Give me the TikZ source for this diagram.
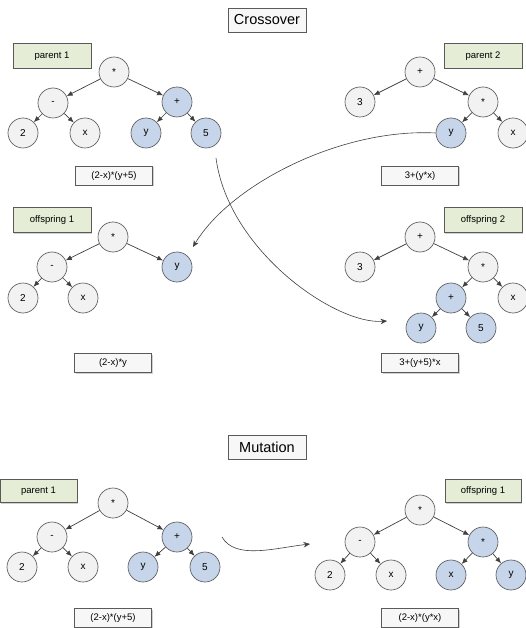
\documentclass[tikz,border=0pt]{standalone}
\usepackage{fontspec}
\setmainfont{Liberation Sans}
\usetikzlibrary{arrows.meta,shadows}
\definecolor{nodegray}{HTML}{F2F2F2}
\definecolor{nodeblue}{HTML}{C6D5EA}
\definecolor{bordergray}{HTML}{5A5A5A}
\definecolor{labelgreen}{HTML}{E5EDD6}
\definecolor{boxgray}{HTML}{F7F7F7}
\definecolor{edgegray}{HTML}{404040}
\tikzset{
  tnode/.style={circle,draw=bordergray,line width=0.65pt,fill=nodegray,minimum size=30pt,inner sep=0pt,font=\fontsize{10}{11}\selectfont},
  bnode/.style={tnode,fill=nodeblue},
  lbl/.style={draw=bordergray,line width=0.5pt,fill=labelgreen,minimum width=78pt,minimum height=25pt,inner sep=0pt,font=\fontsize{9.5}{10}\selectfont,drop shadow={shadow xshift=1pt,shadow yshift=-1pt,fill=gray!60,opacity=0.6}},
  expr/.style={draw=bordergray,line width=0.5pt,fill=boxgray,minimum width=77pt,minimum height=19pt,inner sep=0pt,font=\fontsize{9.5}{10}\selectfont,drop shadow={shadow xshift=1pt,shadow yshift=-1pt,fill=gray!60,opacity=0.6}},
  ttl/.style={draw=bordergray,line width=0.5pt,fill=boxgray,minimum width=78pt,minimum height=24pt,inner sep=0pt,font=\fontsize{14.5}{16}\selectfont,drop shadow={shadow xshift=1pt,shadow yshift=-1pt,fill=gray!60,opacity=0.6}},
  tedge/.style={draw=edgegray,line width=0.7pt,-{Latex[length=6pt,width=5pt]}},
  cedge/.style={draw=edgegray,line width=0.6pt,-{Stealth[length=6.5pt,width=5.5pt]}}
}
\begin{document}
\begin{tikzpicture}[x=1pt,y=-1pt]
\useasboundingbox (0,0) rectangle (526,628);
\fill[white] (0,0) rectangle (526,628);

% ---------- Crossover ----------
\node[ttl] (tc) at (267,20) {Crossover};

% parent 1
\node[lbl] (lp1) at (52,56) {parent 1};
\node[tnode] (a1) at (114,72) {*};
\node[tnode] (a2) at (53,103) {-};
\node[bnode] (a3) at (177,102) {+};
\node[tnode] (a4) at (23,133) {2};
\node[tnode] (a5) at (85,133) {x};
\node[bnode] (a6) at (146,133) {y};
\node[bnode] (a7) at (206,133) {5};
\node[expr] (ex1) at (114,176) {(2-x)*(y+5)};
\foreach \p/\c in {a1/a2,a1/a3,a2/a4,a2/a5,a3/a6,a3/a7} \draw[tedge] (\p) -- (\c);

% parent 2
\node[lbl] (lp2) at (483,56) {parent 2};
\node[tnode] (b1) at (420,72) {+};
\node[tnode] (b2) at (360,102) {3};
\node[tnode] (b3) at (483,102) {*};
\node[bnode] (b4) at (451,133) {y};
\node[tnode] (b5) at (513,133) {x};
\node[expr] (ex2) at (420,176) {3+(y*x)};
\foreach \p/\c in {b1/b2,b1/b3,b3/b4,b3/b5} \draw[tedge] (\p) -- (\c);

% offspring 1
\node[lbl] (lo1) at (52,220) {offspring 1};
\node[tnode] (c1) at (113,237) {*};
\node[tnode] (c2) at (52,267) {-};
\node[bnode] (c3) at (177,267) {y};
\node[tnode] (c4) at (23,298) {2};
\node[tnode] (c5) at (83,298) {x};
\node[expr] (ex3) at (113,363) {(2-x)*y};
\foreach \p/\c in {c1/c2,c1/c3,c2/c4,c2/c5} \draw[tedge] (\p) -- (\c);

% offspring 2
\node[lbl] (lo2) at (483,220) {offspring 2};
\node[tnode] (d1) at (420,237) {+};
\node[tnode] (d2) at (360,267) {3};
\node[tnode] (d3) at (483,267) {*};
\node[bnode] (d4) at (451,298) {+};
\node[tnode] (d5) at (513,298) {x};
\node[bnode] (d6) at (421,328) {y};
\node[bnode] (d7) at (481,328) {5};
\node[expr] (ex4) at (420,363) {3+(y+5)*x};
\foreach \p/\c in {d1/d2,d1/d3,d3/d4,d3/d5,d4/d6,d4/d7} \draw[tedge] (\p) -- (\c);

% crossover arrows
\coordinate (s1) at (216,158);
\coordinate (t1) at (387,321);
\draw[cedge] (s1) .. controls (228,250) and (335,325) .. (t1);
\coordinate (t2) at (193,247);
\draw[cedge] (b4.west) .. controls (340,128) and (230,185) .. (t2);

% ---------- Mutation ----------
\node[ttl] (tm) at (267,447) {Mutation};

\node[lbl,minimum width=77pt,minimum height=23pt] (mp1) at (38.5,491) {parent 1};
\node[tnode] (e1) at (113,503) {*};
\node[tnode] (e2) at (52,537) {-};
\node[bnode] (e3) at (177,537) {+};
\node[tnode] (e4) at (22,567) {2};
\node[tnode] (e5) at (83,567) {x};
\node[bnode] (e6) at (143,567) {y};
\node[bnode] (e7) at (205,567) {5};
\node[expr] (ex5) at (113,618) {(2-x)*(y+5)};
\foreach \p/\c in {e1/e2,e1/e3,e2/e4,e2/e5,e3/e6,e3/e7} \draw[tedge] (\p) -- (\c);

\node[lbl,minimum width=76pt,minimum height=23pt] (mo1) at (483,491) {offspring 1};
\node[tnode] (f1) at (420,510) {*};
\node[tnode] (f2) at (360,542) {-};
\node[bnode] (f3) at (483,542) {*};
\node[tnode] (f4) at (330,575) {2};
\node[tnode] (f5) at (391,575) {x};
\node[bnode] (f6) at (451,575) {x};
\node[bnode] (f7) at (511,575) {y};
\node[expr] (ex6) at (420,618) {(2-x)*(y*x)};
\foreach \p/\c in {f1/f2,f1/f3,f2/f4,f2/f5,f3/f6,f3/f7} \draw[tedge] (\p) -- (\c);

\coordinate (ms) at (222,537);
\coordinate (mt) at (310,544);
\draw[cedge] (ms) .. controls (235,560) and (275,548) .. (mt);
\end{tikzpicture}
\end{document}
